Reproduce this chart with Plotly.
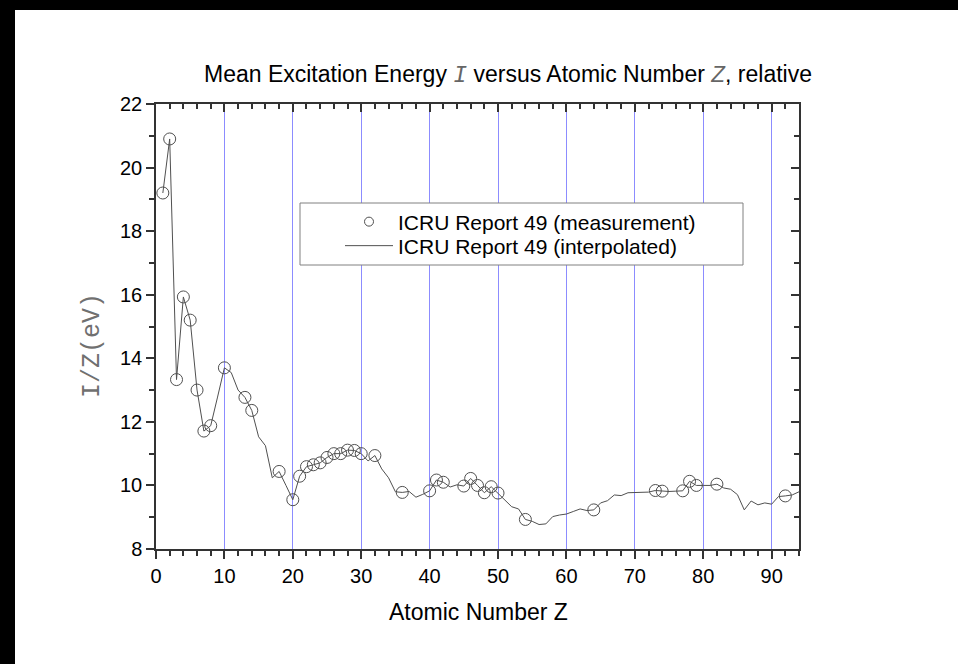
import plotly.graph_objects as go

# ---------------- data ----------------
Z_interp = list(range(1, 95))
IZ_interp = [19.2, 20.9, 13.33, 15.93, 15.2, 13.0, 11.71, 11.88, 12.78, 13.7,
             13.55, 13.0, 12.77, 12.36, 11.53, 11.25, 10.24, 10.44, 10.0, 9.55,
             10.29, 10.59, 10.65, 10.71, 10.88, 11.0, 11.0, 11.11, 11.10, 11.0,
             10.77, 10.94, 10.52, 10.24, 9.80, 9.78, 9.81, 9.63, 9.72, 9.83,
             10.17, 10.10, 9.95, 10.02, 9.98, 10.22, 10.0, 9.77, 9.96, 9.76,
             9.55, 9.33, 9.26, 8.93, 8.87, 8.77, 8.79, 9.02, 9.07, 9.10,
             9.18, 9.26, 9.21, 9.23, 9.45, 9.52, 9.70, 9.68, 9.77, 9.77,
             9.77, 9.79, 9.84, 9.82, 9.81, 9.82, 9.83, 10.13, 10.0, 10.0,
             10.0, 10.04, 9.92, 9.88, 9.71, 9.23, 9.51, 9.39, 9.45, 9.41,
             9.65, 9.67, 9.70, 9.80]

Z_meas = [1, 2, 3, 4, 5, 6, 7, 8, 10, 13, 14, 18, 20, 21, 22, 23, 24, 25, 26, 27,
          28, 29, 30, 32, 36, 40, 41, 42, 45, 46, 47, 48, 49, 50, 54, 64, 73, 74,
          77, 78, 79, 82, 92]
IZ_meas = [19.2, 20.9, 13.33, 15.93, 15.2, 13.0, 11.71, 11.88, 13.7, 12.77, 12.36,
           10.44, 9.55, 10.29, 10.59, 10.65, 10.71, 10.88, 11.0, 11.0, 11.11, 11.10,
           11.0, 10.94, 9.78, 9.83, 10.17, 10.10, 9.98, 10.22, 10.0, 9.77, 9.96,
           9.76, 8.93, 9.23, 9.84, 9.82, 9.83, 10.13, 10.0, 10.04, 9.67]

x_range = [0, 94]
y_range = [8, 22]
x_ticks = [0, 10, 20, 30, 40, 50, 60, 70, 80, 90]
y_ticks = [8, 10, 12, 14, 16, 18, 20, 22]

title_text = ("Mean Excitation Energy <span style='font-family:Liberation Mono;color:#666'><i>I</i></span>"
              " versus Atomic Number <span style='font-family:Liberation Mono;color:#666'><i>Z</i></span>, relative")
xlabel = "Atomic Number Z"
ylabel = "I/Z(eV)"
name_meas = "ICRU Report 49 (measurement)"
name_interp = "ICRU Report 49 (interpolated)"

# ---------------- layout geometry ----------------
W, H = 958, 664
L, R, T, B = 156, 159, 104, 115
PW, PH = W - L - R, H - T - B

def px(xp):
    return (xp - L) / PW

def py(yp):
    return (H - B - yp) / PH

SANS = "Liberation Sans, Arial, sans-serif"
MONO = "Liberation Mono, Courier New, monospace"
AX = "#333333"
LINEC = "#505050"

fig = go.Figure()
fig.add_trace(go.Scatter(x=Z_interp, y=IZ_interp, mode="lines",
                         line=dict(color=LINEC, width=1), name=name_interp,
                         legend="legend2", hoverinfo="skip"))
fig.add_trace(go.Scatter(x=Z_meas, y=IZ_meas, mode="markers",
                         marker=dict(symbol="circle-open", size=12, color=LINEC,
                                     line=dict(width=1, color=LINEC)),
                         name=name_meas, showlegend=False))
fig.add_trace(go.Scatter(x=[None], y=[None], mode="markers",
                         marker=dict(symbol="circle-open", size=9, color=LINEC,
                                     line=dict(width=1, color=LINEC)),
                         name=name_meas, legend="legend"))
fig.add_trace(go.Scatter(x=[None], y=[None], xaxis="x2", yaxis="y2",
                         showlegend=False, hoverinfo="skip"))

common_x = dict(range=x_range, tickvals=x_ticks, showline=True, linecolor=AX,
                linewidth=1.5, tickcolor=AX, tickwidth=1.5, ticklen=8,
                zeroline=False, fixedrange=True)
common_y = dict(range=y_range, tickvals=y_ticks, showline=True, linecolor=AX,
                linewidth=1.5, tickcolor=AX, tickwidth=1.5, ticklen=8,
                zeroline=False, fixedrange=True)

leg_common = dict(xanchor="left", yanchor="middle", bgcolor="rgba(0,0,0,0)",
                  borderwidth=0, itemwidth=48,
                  font=dict(family=SANS, size=21, color="black"),
                  itemclick=False, itemdoubleclick=False)

fig.update_layout(
    width=W, height=H,
    margin=dict(l=L, r=R, t=T, b=B, pad=0),
    paper_bgcolor="white", plot_bgcolor="white",
    font=dict(family=SANS, size=20, color="black"),
    showlegend=True,
    xaxis=dict(**common_x, side="bottom", ticks="outside",
               showgrid=True, gridcolor="#8c8cff", gridwidth=1.2,
               tickfont=dict(family=SANS, size=20, color="black"),
               minor=dict(dtick=2, tick0=0, ticks="outside", ticklen=5,
                          tickcolor=AX, tickwidth=1.5, showgrid=False)),
    xaxis2=dict(**common_x, overlaying="x", side="top", anchor="y", ticks="inside",
                showticklabels=False, showgrid=False,
                minor=dict(dtick=2, tick0=0, ticks="inside", ticklen=5,
                           tickcolor=AX, tickwidth=1.5, showgrid=False)),
    yaxis=dict(**common_y, side="left", ticks="outside", showgrid=False,
               tickfont=dict(family=SANS, size=20, color="black"),
               minor=dict(dtick=1, tick0=0, ticks="outside", ticklen=5,
                          tickcolor=AX, tickwidth=1.5, showgrid=False)),
    yaxis2=dict(**common_y, overlaying="y", side="right", anchor="x", ticks="inside",
                showticklabels=False, showgrid=False,
                minor=dict(dtick=1, tick0=0, ticks="inside", ticklen=5,
                           tickcolor=AX, tickwidth=1.5, showgrid=False)),
    legend=dict(x=px(340), y=py(222), **leg_common),
    legend2=dict(x=px(340), y=py(246), **leg_common),
    shapes=[
        # legend frame
        dict(type="rect", xref="paper", yref="paper",
             x0=px(300), x1=px(743), y0=py(265), y1=py(203),
             line=dict(color="#808080", width=1), fillcolor="white", layer="above"),
        # black border strips of the screenshot
        dict(type="rect", xref="paper", yref="paper",
             x0=px(0), x1=px(W), y0=py(10), y1=py(0),
             line=dict(width=0), fillcolor="black", layer="above"),
        dict(type="rect", xref="paper", yref="paper",
             x0=px(0), x1=px(15), y0=py(H), y1=py(0),
             line=dict(width=0), fillcolor="black", layer="above"),
    ],
    annotations=[
        dict(text=title_text, xref="paper", yref="paper", x=px(508), y=py(75),
             xanchor="center", yanchor="middle", showarrow=False,
             font=dict(family=SANS, size=23, color="black")),
        dict(text=xlabel, xref="paper", yref="paper", x=px(478), y=py(612),
             xanchor="center", yanchor="middle", showarrow=False,
             font=dict(family=SANS, size=23, color="black")),
        dict(text=ylabel, xref="paper", yref="paper", x=px(92), y=py(346),
             xanchor="center", yanchor="middle", showarrow=False, textangle=-90,
             font=dict(family=MONO, size=25, color="#707070")),
    ],
)

fig.write_html("out.html")
